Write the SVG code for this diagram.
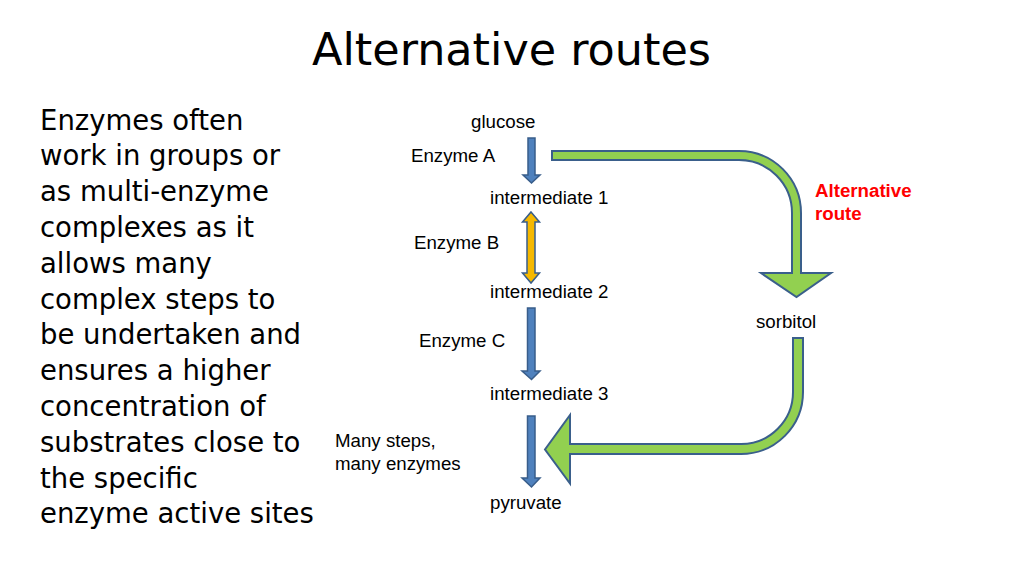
<svg xmlns="http://www.w3.org/2000/svg" width="1024" height="576" viewBox="0 0 1024 576">
<style>
.comic{font-family:"DejaVu Sans",sans-serif;fill:#000}
.lbl{font-family:"Liberation Sans",Arial,sans-serif;font-size:18.7px;fill:#000}
.red{font-family:"Liberation Sans",Arial,sans-serif;font-size:18.7px;font-weight:bold;fill:#FF0000}
.blue{fill:#4F81BD;stroke:#385D8A;stroke-width:1.5;stroke-linejoin:miter}
.yellow{fill:#F5B800;stroke:#385D8A;stroke-width:1.5}
.green{fill:#92D050;stroke:#3A5F8B;stroke-width:2;stroke-linejoin:miter}
</style>
<rect width="1024" height="576" fill="#fff"/>
<text class="comic" x="312" y="65" font-size="44.5">Alternative routes</text>
<g id="description" class="comic" font-size="27.5">
<text x="40" y="129.5">Enzymes often</text>
<text x="40" y="165.3">work in groups or</text>
<text x="40" y="201.1">as multi-enzyme</text>
<text x="40" y="236.9">complexes as it</text>
<text x="40" y="272.7">allows many</text>
<text x="40" y="308.5">complex steps to</text>
<text x="40" y="344.3">be undertaken and</text>
<text x="40" y="380.1">ensures a higher</text>
<text x="40" y="415.9">concentration of</text>
<text x="40" y="451.7">substrates close to</text>
<text x="40" y="487.5">the specific</text>
<text x="40" y="523.3">enzyme active sites</text>
</g>
<g id="glucose"><text class="lbl" x="471" y="128">glucose</text></g>
<g id="intermediate1"><text class="lbl" x="490" y="204">intermediate 1</text></g>
<g id="intermediate2"><text class="lbl" x="490" y="298">intermediate 2</text></g>
<g id="intermediate3"><text class="lbl" x="490" y="400">intermediate 3</text></g>
<g id="pyruvate"><text class="lbl" x="490" y="509">pyruvate</text></g>
<g id="sorbitol"><text class="lbl" x="756" y="328">sorbitol</text></g>
<g id="connectors">
<path class="blue" d="M528,138 H535 V175 H540 L531.5,183 L523,175 H528 Z"/>
<path class="yellow" d="M531,212 L539.5,222 H535 V273 H539.5 L531,283 L522.5,273 H527 V222 H522.5 Z"/>
<path class="blue" d="M527.5,308 H535 V371 H540 L531.5,379.5 L522,371 H527.5 Z"/>
<path class="blue" d="M527.5,416 H535 V478 H540 L531.5,487 L522,478 H527.5 Z"/>
<path class="green" d="M552,151 H739 A62,62 0 0 1 801,213 V273 H831 L796.5,297 L761,273 H792 V213 A53,53 0 0 0 739,160 H552 Z"/>
<path class="green" d="M793,338 H803 V392 A62,62 0 0 1 741,454 H570 V483.5 L545,449.5 L570,415 V444 H741 A52,52 0 0 0 793,392 Z"/>
<text class="lbl" x="411" y="162">Enzyme A</text>
<text class="lbl" x="414" y="249">Enzyme B</text>
<text class="lbl" x="419" y="347">Enzyme C</text>
<text class="lbl" x="335" y="447">Many steps,</text>
<text class="lbl" x="335" y="470">many enzymes</text>
<text class="red" x="815" y="197">Alternative</text>
<text class="red" x="815" y="220">route</text>
</g>
</svg>
